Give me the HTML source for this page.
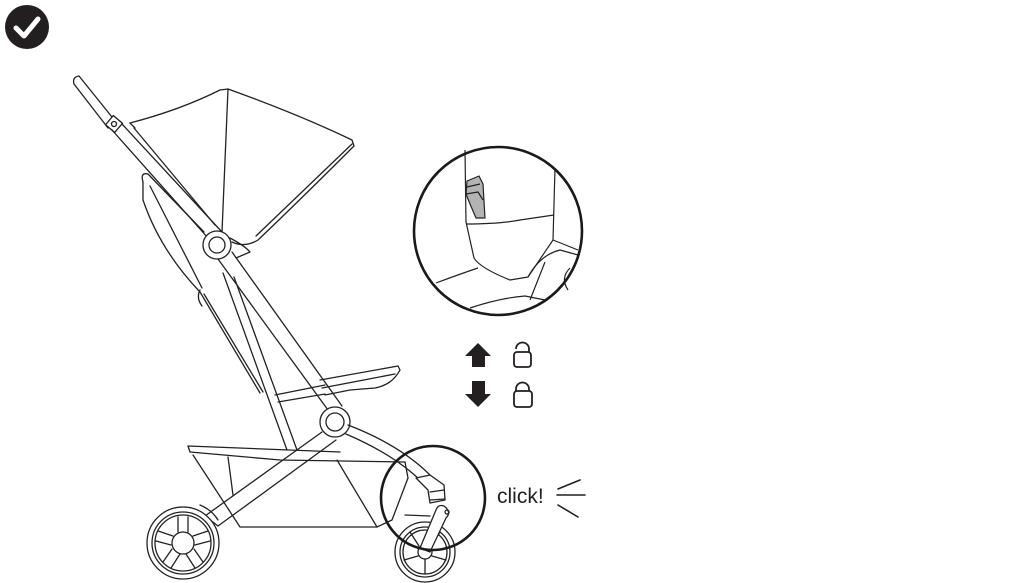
<!DOCTYPE html>
<html><head><meta charset="utf-8"><style>
html,body{margin:0;padding:0;background:#fff;}
svg{display:block}
text{font-family:"Liberation Sans","DejaVu Sans",sans-serif;}
</style></head><body>
<svg width="1024" height="583" viewBox="0 0 1024 583" xmlns="http://www.w3.org/2000/svg">
<rect width="1024" height="583" fill="#fff"/>
<circle cx="27" cy="27" r="22" fill="#231f20"/>
<path d="M16 28 L24 36 L38 19" fill="none" stroke="#fff" stroke-width="5" stroke-linecap="round" stroke-linejoin="round"/>

<g fill="none" stroke="#222" stroke-width="1.3" stroke-linejoin="round" stroke-linecap="round">
<!-- handle -->
<path d="M74 84 Q72 77 79 76 L116 122 L108 128 Z" fill="#fff"/>
<rect x="108" y="118" width="12" height="12" transform="rotate(40 114 124)" fill="#fff"/>
<circle cx="114" cy="124" r="2.5"/>
<path d="M112 130 L208 238 M122 124 L222 232"/>
<!-- canopy -->
<path d="M130 123 Q180 110 220 90 L228 89 Q300 115 352 140 L354 146 Q300 200 258 240 Q245 248 232 242"/>
<path d="M134 128 L215 225 M130 123 L135 128"/>
<path d="M228 89 L222 232"/>
<path d="M352 144 L256 236"/>
<!-- seat back -->
<path d="M143 182 Q140 172 148 174 L204 232"/>
<path d="M143 182 L143 200 Q160 250 200 292 L260 393"/>
<path d="M150 186 L202 288 M204 294 L263 392"/>
<path d="M200 290 Q196 298 202 306"/>
<!-- top joint -->
<circle cx="217" cy="245" r="14" fill="#fff"/>
<circle cx="217" cy="245" r="8"/>
<path d="M230 238 Q245 246 250 252 L236 258"/>
<!-- main tube -->
<path d="M218 259 L328 410 M232 252 L342 406"/>
<!-- secondary tube -->
<path d="M223 273 L287 450 M234 277 L297 450"/>
<!-- footrest -->
<path d="M320 380 L398 366 L400 370 Q392 385 375 388 L350 390 L325 395"/>
<path d="M322 388 L395 374"/>
<path d="M275 395 L325 385 M278 402 L325 394"/>
<!-- lower joint -->
<circle cx="335" cy="422" r="15" fill="#fff"/>
<circle cx="335" cy="422" r="9"/>
<!-- front tube -->
<path d="M348 425 Q400 445 430 475 M346 434 Q395 455 422 482"/>
<!-- rear leg -->
<path d="M322 432 L205 516 M336 440 L218 526"/>
<path d="M205 516 L218 526"/>
<!-- basket -->
<path d="M188 446 L190 452 L280 460 L405 462"/>
<path d="M188 446 L340 452"/>
<path d="M193 455 L240 527 L377 527 L337 460"/>
<path d="M228 457 L233 495"/>
<path d="M405 462 L408 478 L392 520 L377 527"/>
<!-- rear wheel -->
<circle cx="183" cy="543" r="36" fill="#fff"/>
<circle cx="183" cy="543" r="31"/>
<circle cx="183" cy="543" r="28"/>
<circle cx="183" cy="543" r="11"/>
<path d="M178 532 L178 517 M188 532 L188 517 M195 545 L210 541 M193 536 L208 531 M186 554 L195 568 M194 549 L203 562 M180 554 L171 568 M172 549 L163 562 M171 545 L156 541 M173 536 L158 531"/>
<path d="M200 505 Q212 510 218 520"/>
<!-- front wheel -->
<circle cx="425" cy="552" r="30" fill="#fff"/>
<circle cx="425" cy="552" r="25"/>
<circle cx="425" cy="552" r="22"/>
<circle cx="425" cy="552" r="7"/>
<path d="M419 546 L410 532 M431 546 L440 532 M432 556 L446 560 M418 556 L404 560 M425 559 L425 574"/>
<!-- fork block -->
<path d="M416 478 L430 475 L444 485 L445 500 L430 503 L428 490 Z" fill="#fff"/>
<path d="M430 492 L444 490 M430 500 L445 499"/>
<path d="M444 506 Q452 512 446 518 L430 552 L420 548 L436 510 Q438 504 444 506 Z" fill="#fff"/>
<circle cx="447" cy="512" r="2"/>
<path d="M405 515 L430 516"/>
</g>

<!-- detail circle -->
<g fill="none" stroke="#222" stroke-width="1.2" stroke-linejoin="round">
<path d="M465 150 L466 222 L474 258 Q480 268 510 280 L528 277 L553 240 L555 168"/>
<path d="M466 224 Q500 224 520 220 L554 215"/>
<path d="M436 283 Q460 274 478 268"/>
<path d="M470 308 Q500 298 525 296 L545 300"/>
<path d="M553 240 L578 250 M528 277 Q540 255 560 250 L578 255 M530 300 L545 262"/>
<path d="M568 290 Q560 278 570 268"/>
<path d="M467 181 L479 176 L483 184 L485 218 L476 218 L470 204 L466 194 Z" fill="#b3b3b3"/>
<path d="M467 187 L480 184 M466 194 L478 192 L483 200"/>
</g>
<circle cx="498" cy="231" r="84" fill="none" stroke="#1a1a1a" stroke-width="2.6"/>
<circle cx="433" cy="498" r="52" fill="none" stroke="#1a1a1a" stroke-width="2.6"/>

<path d="M478 343 L491 356 L485 356 L485 367 L472 367 L472 356 L465 356 Z" fill="#231f20"/>
<path d="M478 407 L491 394 L485 394 L485 381 L472 381 L472 394 L465 394 Z" fill="#231f20"/>
<g fill="none" stroke="#231f20" stroke-width="1.8">
<path d="M529 352 L529 349 A6.5 6.5 0 0 0 516 349"/>
<rect x="514" y="352" width="17" height="15" rx="3"/>
<path d="M516 391 L516 389 A6.5 6.5 0 0 1 529 389 L529 391"/>
<rect x="514" y="391" width="18" height="16" rx="3"/>
</g>
<text x="497" y="503" font-size="21" fill="#231f20">click!</text>
<g stroke="#231f20" stroke-width="1.6" stroke-linecap="round">
<path d="M558 489 L580 480 M557 495 L585 495 M558 505 L578 517"/>
</g>
</svg>
</body></html>
